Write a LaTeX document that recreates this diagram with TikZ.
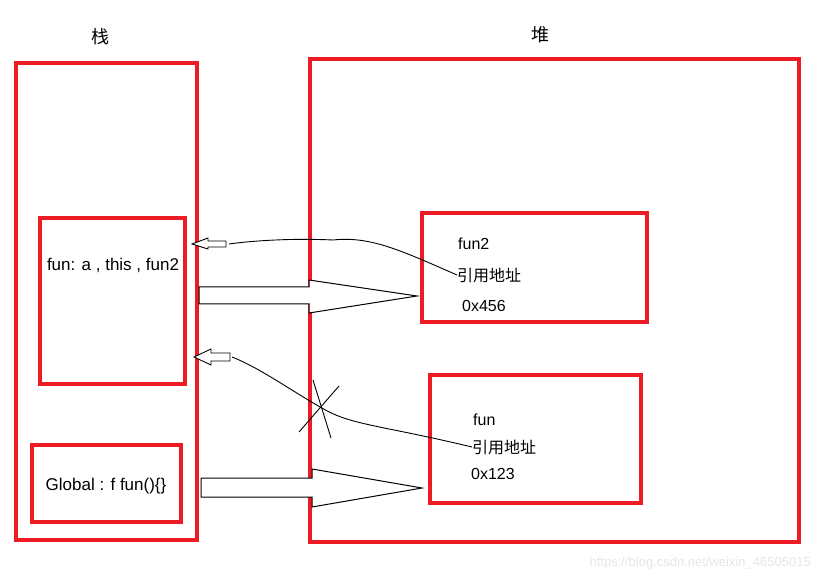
\documentclass[tikz,border=0pt]{standalone}
\usepackage{fontspec}
\setmainfont{Liberation Sans}
\newfontfamily\cjk{Noto Sans CJK SC}
\definecolor{paintred}{HTML}{ED1C24}
\definecolor{wmark}{HTML}{E6E6E6}
\begin{document}
\begin{tikzpicture}[x=1pt,y=-1pt,
  redbox/.style={draw=paintred,line width=4pt,inner sep=0pt},
  lbl/.style={inner sep=0pt,anchor=west,font=\fontsize{16}{18}\selectfont},
  cjklbl/.style={inner sep=0pt,anchor=west,font=\cjk\fontsize{16}{18}\selectfont},
  thin/.style={draw=black,line width=0.9pt},
  blockarrow/.style={draw=black,line width=1pt,fill=white,line join=miter}]
\useasboundingbox (0,0) rectangle (820,580);
% titles
\node[font=\cjk\fontsize{18}{20}\selectfont] (stacklbl) at (100,37) {栈};
\node[font=\cjk\fontsize{18}{20}\selectfont] (heaplbl) at (540,35) {堆};
% outer boxes
\node[redbox,minimum width=181pt,minimum height=477pt] (stack) at (106.5,301.5) {};
\node[redbox,minimum width=489pt,minimum height=483pt] (heap) at (554.5,300.5) {};
% inner stack boxes
\node[redbox,minimum width=145pt,minimum height=166pt] (funbox) at (112.5,301) {};
\node[inner sep=0pt,font=\fontsize{17}{19}\selectfont] (funtxt) at (113,265) {fun: a , this , fun2};
\node[redbox,minimum width=149pt,minimum height=77pt] (globalbox) at (106.5,483.5) {};
\node[inner sep=0pt,font=\fontsize{17}{19}\selectfont] (globaltxt) at (106,486) {Global : f fun()\{\}};
% heap boxes
\node[redbox,minimum width=225pt,minimum height=109pt] (fun2obj) at (534.5,267.5) {};
\node[lbl] (fun2name) at (458,244) {fun2};
\node[cjklbl] (fun2ref) at (457,275) {引用地址};
\node[lbl] (fun2addr) at (462,306) {0x456};
\node[redbox,minimum width=211pt,minimum height=128pt] (funobj) at (535.5,439) {};
\node[lbl] (funname) at (473,420) {fun};
\node[cjklbl] (funref) at (472,447) {引用地址};
\node[lbl] (funaddr) at (471,474) {0x123};
% big block arrows (stack -> heap)
\coordinate (a1tip) at (417,296);
\draw[blockarrow] (199,287) -- (309,287) -- (309,280) -- (a1tip) -- (309,313) -- (309,304) -- (199,304) -- cycle;
\coordinate (a2tip) at (422,488);
\draw[blockarrow] (201,478) -- (312,478) -- (312,469) -- (a2tip) -- (312,507) -- (312,497) -- (201,497) -- cycle;
% small hollow arrows (heap -> stack)
\coordinate (s1tip) at (192,244);
\draw[blockarrow,line width=0.9pt] (s1tip) -- (208,238) -- (208,241) -- (226,241) -- (226,247) -- (208,247) -- (208,249) -- cycle;
\coordinate (s2tip) at (194,357);
\draw[blockarrow,line width=0.9pt] (s2tip) -- (211,349) -- (211,353) -- (230,353) -- (230,361) -- (211,361) -- (211,365) -- cycle;
% reference curves
\draw[thin] (fun2ref.west) .. controls (400,250) and (370,236) .. (333,240) .. controls (290,238) and (250,241) .. (229,244);
\draw[thin] (funref.west) .. controls (380,425) and (350,425) .. (322,408) .. controls (290,390) and (260,368) .. (232,357);
% cross
\draw[thin] (313,380) -- (331,438);
\draw[thin] (339,386) -- (299,432);
% watermark
\node[inner sep=0pt,anchor=east,text=wmark,font=\fontsize{13}{15}\selectfont] (wm) at (811,563) {https://blog.csdn.net/weixin\_46505015};
\end{tikzpicture}
\end{document}
